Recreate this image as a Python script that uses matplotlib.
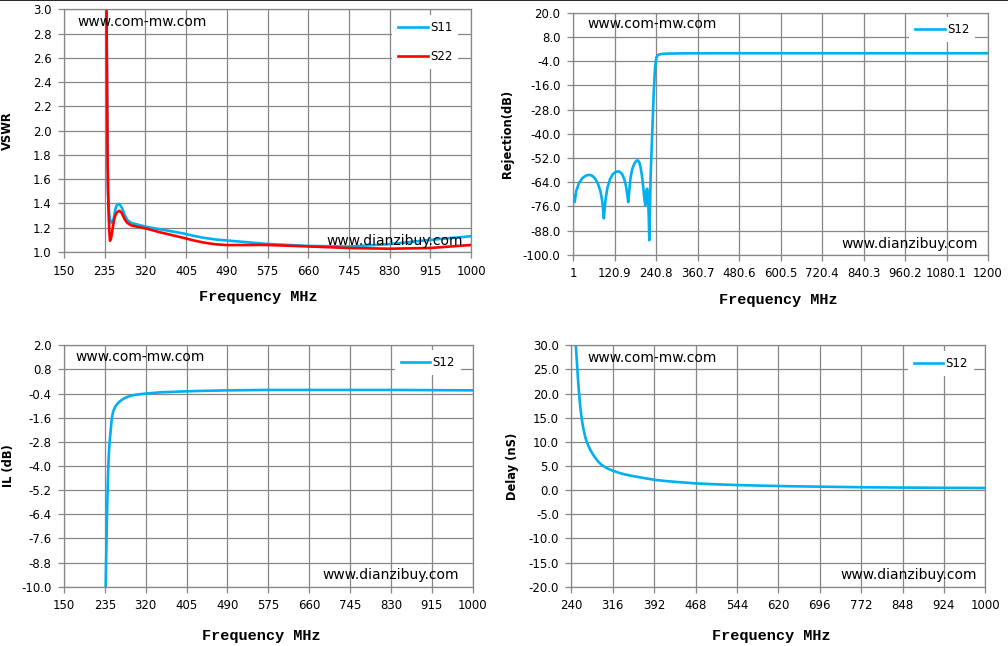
import matplotlib
matplotlib.use('Agg')
import matplotlib.pyplot as plt
from matplotlib.lines import Line2D

# ---------------- data ----------------
vswr_freq = [237, 238, 239, 240, 241, 242, 243, 243.5, 244.5, 245.5, 246, 248, 250.8, 251, 254, 255,
             257, 260, 264.7, 266, 270, 272, 276, 282, 290, 302, 320, 351, 398, 420, 440, 465, 490, 575,
             660, 745, 830, 915, 1000]
vswr_s11 = [4.2, 3.6, 2.9, 2.3, 1.75, 1.5, 1.40, 1.36, 1.31, 1.28, 1.27, 1.245, 1.24, 1.242, 1.28, 1.30,
            1.35, 1.385, 1.396, 1.394, 1.37, 1.355, 1.31, 1.264, 1.24, 1.228, 1.209, 1.187, 1.154, 1.134,
            1.118, 1.104, 1.095, 1.066, 1.05, 1.045, 1.065, 1.10, 1.13]
vswr_s22 = [4.2, 3.6, 2.9, 2.3, 1.75, 1.5, 1.35, 1.28, 1.18, 1.12, 1.093, 1.11, 1.17, 1.18, 1.25, 1.27,
            1.30, 1.325, 1.338, 1.34, 1.325, 1.31, 1.275, 1.24, 1.22, 1.209, 1.195, 1.162, 1.118, 1.096,
            1.079, 1.064, 1.057, 1.058, 1.046, 1.033, 1.027, 1.033, 1.058]

rej_freq = [1, 3, 5.8, 10, 18, 28, 38, 47, 56, 65, 73, 80, 85, 88, 90, 92, 95, 100, 108, 116, 125, 134,
            142, 149, 154, 158, 160.4, 163, 167, 172, 179, 185, 189, 193, 197, 201, 204, 207, 209.7, 211.5,
            213.5, 215.5, 217.5, 219.5, 221.3, 223, 225, 227, 230, 234, 238, 241.8, 245, 249.5, 260, 280,
            320, 400, 600, 800, 1000, 1200]
rej_s12 = [-70.6, -72.5, -73.9, -68.5, -64.5, -62.0, -60.8, -60.4, -60.8, -62.3, -64.8, -68.5, -73.0, -78.0,
           -82.0, -78.0, -72.5, -67.0, -62.5, -60.0, -58.8, -58.7, -59.8, -62.5, -66.0, -70.5, -73.9, -69.0,
           -62.0, -57.5, -54.5, -53.3, -53.3, -54.5, -57.5, -62.0, -67.0, -72.0, -75.5, -71.0, -67.5, -67.3,
           -70.0, -80.0, -92.8, -80.0, -62.0, -52.0, -39.0, -20.0, -7.0, -2.2, -1.2, -0.7, -0.4, -0.25,
           -0.15, -0.1, -0.1, -0.1, -0.1, -0.1]

il_freq = [236.5, 238, 239.5, 241, 242.5, 244, 245.5, 247, 248.5, 250, 252, 253.7, 256, 259.2, 262, 266, 271,
           276.5, 284, 293.7, 305, 320, 349, 390, 430, 490, 575, 660, 745, 830, 915, 1000]
il_s12 = [-10.3, -8.2, -6.4, -4.9, -3.8, -3.1, -2.65, -2.25, -1.85, -1.55, -1.32, -1.21, -1.08, -0.96, -0.88,
          -0.79, -0.70, -0.62, -0.55, -0.48, -0.44, -0.40, -0.34, -0.30, -0.27, -0.24, -0.22, -0.22, -0.22,
          -0.22, -0.23, -0.24]

delay_freq = [247, 248.5, 250, 252.2, 254, 256, 258, 260, 262, 264.3, 267, 269.2, 272, 276.5, 282, 288.6,
              294, 300.8, 308, 316.6, 327, 337.3, 349, 361.6, 376, 392, 410, 434.7, 468, 506, 544, 582,
              620, 658, 696, 734, 772, 848, 924, 1000]
delay_s12 = [32.0, 29.5, 27.0, 23.0, 20.3, 17.7, 15.7, 14.1, 12.8, 11.6, 10.4, 9.8, 9.0, 8.0, 7.0, 6.0,
             5.4, 4.85, 4.4, 4.0, 3.6, 3.28, 3.0, 2.75, 2.45, 2.15, 1.92, 1.68, 1.4, 1.2, 1.05, 0.95,
             0.85, 0.78, 0.72, 0.66, 0.6, 0.53, 0.48, 0.44]

vswr_xticks = [150, 235, 320, 405, 490, 575, 660, 745, 830, 915, 1000]
vswr_yticks = [1.0, 1.2, 1.4, 1.6, 1.8, 2.0, 2.2, 2.4, 2.6, 2.8, 3.0]
rej_xticks = [1, 120.9, 240.8, 360.7, 480.6, 600.5, 720.4, 840.3, 960.2, 1080.1, 1200]
rej_xlabels = ['1', '120.9', '240.8', '360.7', '480.6', '600.5', '720.4', '840.3', '960.2', '1080.1', '1200']
rej_yticks = [20.0, 8.0, -4.0, -16.0, -28.0, -40.0, -52.0, -64.0, -76.0, -88.0, -100.0]
il_yticks = [2.0, 0.8, -0.4, -1.6, -2.8, -4.0, -5.2, -6.4, -7.6, -8.8, -10.0]
delay_xticks = [240, 316, 392, 468, 544, 620, 696, 772, 848, 924, 1000]
delay_yticks = [30.0, 25.0, 20.0, 15.0, 10.0, 5.0, 0.0, -5.0, -10.0, -15.0, -20.0]

# ---------------- style ----------------
GRID = '#878787'
BLUE = '#00B0F0'
RED = '#FF0000'
LW = 1.9

fig = plt.figure(figsize=(10.08, 6.46), dpi=100)
fig.add_artist(Line2D([0, 1], [0.9995, 0.9995], transform=fig.transFigure, color='black', lw=1.2))


def style(ax, xticks, xlabels, yticks, ylabel, ylab_x, xlab_x, xlab_y):
    ax.set_xlim(xticks[0], xticks[-1])
    ax.set_ylim(min(yticks), max(yticks))
    ax.set_xticks(xticks)
    ax.set_xticklabels(xlabels)
    ax.set_yticks(yticks)
    ax.set_yticklabels([f'{v:.1f}' for v in yticks])
    ax.grid(True, color=GRID, lw=0.9)
    ax.set_axisbelow(True)
    for s in ax.spines.values():
        s.set_color(GRID)
        s.set_linewidth(0.9)
    ax.tick_params(direction='out', length=4, width=0.9, color=GRID, labelsize=8.5, pad=5)
    ax.set_xlabel('Frequency MHz', fontfamily='Liberation Mono', fontweight='bold', fontsize=11)
    ax.xaxis.label.set_va('center')
    ax.xaxis.set_label_coords(xlab_x, xlab_y)
    ax.set_ylabel(ylabel, fontweight='bold', fontsize=8.3)
    ax.yaxis.label.set_va('center')
    ax.yaxis.set_label_coords(ylab_x, 0.5)


def marks(ax, top_xy, bot_xy, leg_anchor):
    ax.text(top_xy[0], top_xy[1], 'www.com-mw.com', transform=ax.transAxes, ha='left', va='center',
            fontsize=10, zorder=5)
    ax.text(bot_xy[0], bot_xy[1], 'www.dianzibuy.com', transform=ax.transAxes, ha='right', va='center',
            fontsize=10, zorder=5)
    ax.legend(loc='upper right', bbox_to_anchor=leg_anchor, borderaxespad=0, frameon=True,
              facecolor='white', edgecolor='none', framealpha=1, fancybox=False, fontsize=8.5,
              handlelength=2.5, handletextpad=0.2, borderpad=0.5, labelspacing=1.33)


# top-left: VSWR
ax1 = fig.add_axes([0.0635, 0.6099, 0.4038, 0.3757])
ax1.plot(vswr_freq, vswr_s11, color=BLUE, lw=LW, label='S11')
ax1.plot(vswr_freq, vswr_s22, color=RED, lw=LW, label='S22')
style(ax1, vswr_xticks, [str(v) for v in vswr_xticks], vswr_yticks, 'VSWR', -0.138, 0.477, -0.185)
marks(ax1, (0.032, 0.948), (0.980, 0.045), (0.969, 0.975))

# top-right: Rejection
ax2 = fig.add_axes([0.5685, 0.6057, 0.4117, 0.3746])
ax2.plot(rej_freq, rej_s12, color=BLUE, lw=LW, label='S12')
style(ax2, rej_xticks, rej_xlabels, rej_yticks, 'Rejection(dB)', -0.157, 0.495, -0.187)
marks(ax2, (0.034, 0.953), (0.976, 0.044), (0.969, 0.982))

# bottom-left: IL
ax3 = fig.add_axes([0.0635, 0.0918, 0.4054, 0.3737])
ax3.plot(il_freq, il_s12, color=BLUE, lw=LW, label='S12')
style(ax3, vswr_xticks, [str(v) for v in vswr_xticks], il_yticks, 'IL (dB)', -0.137, 0.484, -0.203)
marks(ax3, (0.027, 0.952), (0.966, 0.048), (0.971, 0.979))

# bottom-right: Delay
ax4 = fig.add_axes([0.5668, 0.0918, 0.4107, 0.3737])
ax4.plot(delay_freq, delay_s12, color=BLUE, lw=LW, label='S12')
style(ax4, delay_xticks, [str(v) for v in delay_xticks], delay_yticks, 'Delay (nS)', -0.141, 0.482, -0.204)
marks(ax4, (0.038, 0.948), (0.980, 0.048), (0.972, 0.975))

fig.savefig('out.png', dpi=100)
